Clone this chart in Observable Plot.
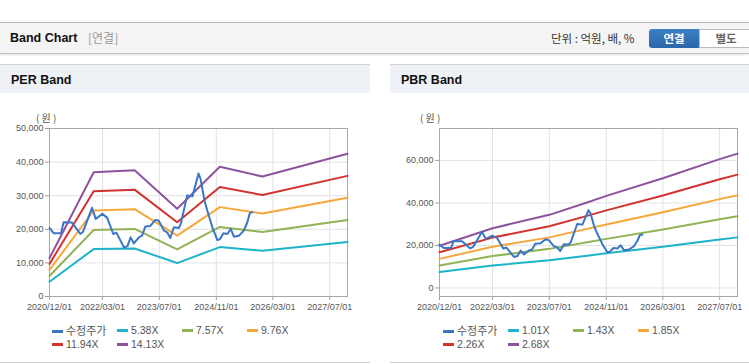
<!DOCTYPE html>
<html><head><meta charset="utf-8">
<script src="https://cdn.jsdelivr.net/npm/d3@7"></script>
<script src="https://cdn.jsdelivr.net/npm/@observablehq/plot@0.6"></script>
<style>
body{margin:0;width:749px;height:364px;position:relative;overflow:hidden;background:#fff;font-family:"Liberation Sans",Arial,"Noto Sans CJK KR",sans-serif;}
.abs{position:absolute;}
.hdr{left:0;top:22px;width:749px;height:30px;background:#f4f4f4;border-top:1px solid #b8b8b8;border-bottom:1px solid #c4c4c4;box-shadow:0 1px 2px rgba(0,0,0,0.12);}
.title{left:10px;top:30px;font-size:12.5px;font-weight:bold;color:#111;line-height:16px;}
.sub{left:88px;top:30px;font-size:12px;color:#999;line-height:16px;font-family:"Noto Sans CJK KR",sans-serif;}
.unit{left:551px;top:30px;font-size:11.5px;color:#333;line-height:16px;font-family:"Noto Sans CJK KR",sans-serif;}
.btn1{left:649px;top:29px;width:50px;height:19px;background:linear-gradient(#3d80c6,#2a66a8);color:#fff;border-radius:3px 0 0 3px;font-size:11.5px;font-weight:bold;text-align:center;line-height:19px;font-family:"Noto Sans CJK KR",sans-serif;}
.btn2{left:699px;top:29px;width:52px;height:17px;background:#fff;color:#666;border:1px solid #bbb;font-size:11.5px;font-weight:bold;text-align:center;line-height:17px;font-family:"Noto Sans CJK KR",sans-serif;}
.ph{top:64px;height:28px;background:#eef2f7;border-top:1px solid #d4d4d4;}
.pt{top:72px;font-size:12.5px;font-weight:bold;color:#111;line-height:16px;}
.bl{top:362px;height:1px;background:#cfcfcf;}
.unitlbl{top:111px;font-size:10px;color:#555;font-family:"Noto Sans CJK KR",sans-serif;line-height:14px;}
.legend{top:323px;font-size:10.5px;color:#555;}
.li{position:absolute;white-space:nowrap;line-height:14px;}
.sw{display:inline-block;width:11px;height:3px;vertical-align:middle;margin-right:3px;position:relative;top:-1px;}
.kr{font-family:"Noto Sans CJK KR",sans-serif;font-size:11px;}
</style></head><body>
<div class="abs hdr"></div>
<div class="abs title">Band Chart</div>
<div class="abs sub">[연결]</div>
<div class="abs unit">단위 : 억원, 배, %</div>
<div class="abs btn1">연결</div>
<div class="abs btn2">별도</div>

<div class="abs ph" style="left:0;width:370px"></div>
<div class="abs pt" style="left:11px">PER Band</div>
<div class="abs ph" style="left:390px;width:359px"></div>
<div class="abs pt" style="left:401px">PBR Band</div>
<div class="abs bl" style="left:0;width:370px"></div>
<div class="abs bl" style="left:390px;width:359px"></div>
<div class="abs unitlbl" style="left:36px">( 원 )</div>
<div class="abs unitlbl" style="left:420px">( 원 )</div>

<div id="per" class="abs" style="left:0;top:105px"></div>
<div id="pbr" class="abs" style="left:390px;top:105px"></div>
<div id="perLegend" class="abs legend" style="left:52px"></div>
<div id="pbrLegend" class="abs legend" style="left:443px"></div>

<script>
// ---- data ----
const xTicks = ["2020-12-01","2022-03-01","2023-07-01","2024-11-01","2026-03-01","2027-07-01"];
const xDomain = ["2020-12-01","2027-12-01"];

const priceDates = ["2020-12-01","2021-01-07","2021-03-10","2021-04-01","2021-06-13","2021-08-22","2021-09-15","2021-12-01","2022-01-01","2022-02-28","2022-04-10","2022-06-01","2022-06-28","2022-09-01","2022-10-01","2022-10-28","2022-11-25","2023-01-06","2023-02-03","2023-03-03","2023-04-15","2023-05-28","2023-06-25","2023-08-10","2023-09-06","2023-10-03","2023-11-03","2023-12-15","2024-01-01","2024-02-25","2024-04-10","2024-06-01","2024-06-18","2024-07-22","2024-08-15","2024-09-28","2024-11-10","2024-12-01","2025-01-01","2025-02-04","2025-03-04","2025-04-01","2025-05-13","2025-06-25","2025-07-25","2025-08-15","2025-09-06"];
const priceValues = [20400,18800,18800,22100,22000,18600,19300,26400,23100,24600,23400,18600,19000,14600,15000,17600,15800,17600,18100,20800,21000,22800,22600,19600,19100,17400,20600,20400,21600,30100,29800,36600,35100,28600,25600,20600,16800,17000,18800,18600,20100,17800,18100,19600,22100,24800,25100];

const perBandDates = ["2020-12-01","2021-12-15","2022-12-01","2023-12-01","2024-12-01","2025-12-01","2027-12-01"];
const per538  = [4400,14100,14300,9950,14700,13600,16200];
const per757  = [6100,19800,20100,14000,20700,19200,22800];
const per976  = [7900,25600,26000,18100,26600,24700,29400];
const per1194 = [9700,31300,31800,22100,32600,30200,35900];
const per1413 = [11400,37000,37600,26100,38600,35700,42500];
const perLabels = ["수정주가","5.38X","7.57X","9.76X","11.94X","14.13X"];
const perYTicks = [0,10000,20000,30000,40000,50000];

const pbrBandDates = ["2020-12-01","2022-03-01","2023-07-01","2024-05-20","2024-11-01","2026-03-01","2027-07-01","2027-12-01"];
const pbr101 = [7500,10600,13000,15200,16300,19400,22800,23800];
const pbr143 = [10600,15000,18400,21500,23100,27500,32300,33700];
const pbr185 = [13700,19400,23800,27800,29900,35600,41800,43600];
const pbr226 = [16800,23700,29000,33900,36500,43500,51100,53300];
const pbr268 = [19900,28100,34400,40200,43300,51600,60600,63200];
const pbrLabels = ["수정주가","1.01X","1.43X","1.85X","2.26X","2.68X"];
const pbrYTicks = [0,20000,40000,60000];

const colors = ["#3a76c4","#1db3c8","#8fb356","#f6a73b","#d2332f","#8e539f"];

// ---- build ----
const D = s => new Date(s);
const toRows = (dates, vals) => dates.map((d,i)=>({date:D(d), value:vals[i]}));
const priceRows = toRows(priceDates, priceValues);

function chart(bandDates, bands, yDomain, yTicks, width, mr){
  const marks = [
    Plot.gridX(xTicks.map(D), {stroke:"#e2e2e2", strokeOpacity:1}),
    Plot.gridY(yTicks, {stroke:"#e2e2e2", strokeOpacity:1}),
    Plot.axisX(xTicks.map(D), {tickFormat:d3.utcFormat("%Y/%m/%d"), tickSize:4, tickPadding:3, stroke:"#a0a0a0", fill:"#555", fontSize:9, label:null}),
    Plot.axisY(yTicks, {tickFormat:d3.format(","), tickSize:4, tickPadding:2, stroke:"#a0a0a0", fill:"#555", fontSize:9, label:null}),
    Plot.frame({stroke:"#a8a8a8"})
  ];
  bands.forEach((b,i)=>{
    marks.push(Plot.line(toRows(bandDates,b), {x:"date", y:"value", stroke:colors[i+1], strokeWidth:2}));
  });
  marks.push(Plot.line(priceRows, {x:"date", y:"value", stroke:colors[0], strokeWidth:2}));
  return Plot.plot({
    width, height:216, marginLeft:49, marginRight:mr, marginTop:23, marginBottom:25,
    style:{background:"transparent", fontFamily:"Liberation Sans, Arial, sans-serif", fontSize:"9px", overflow:"visible"},
    x:{type:"utc", domain:xDomain.map(D)},
    y:{domain:yDomain},
    marks
  });
}

document.getElementById("per").append(chart(perBandDates,[per538,per757,per976,per1194,per1413],[0,50000],perYTicks,370,23));
document.getElementById("pbr").append(chart(pbrBandDates,[pbr101,pbr143,pbr185,pbr226,pbr268],[-4000,75000],pbrYTicks,359,12));

function legend(id, labels){
  const el = document.getElementById(id);
  labels.forEach((t,i)=>{
    const col = i===0 ? 0 : (i<=3 ? i : i-4);
    const row = i<=3 ? 0 : 1;
    const d = document.createElement("div");
    d.className = "li";
    d.style.left = (col*65)+"px";
    d.style.top = (row*14)+"px";
    d.innerHTML = `<span class="sw" style="background:${colors[i]}"></span><span class="${i===0?'kr':''}">${t}</span>`;
    el.append(d);
  });
}
legend("perLegend", perLabels);
legend("pbrLegend", pbrLabels);
</script>
</body></html>
